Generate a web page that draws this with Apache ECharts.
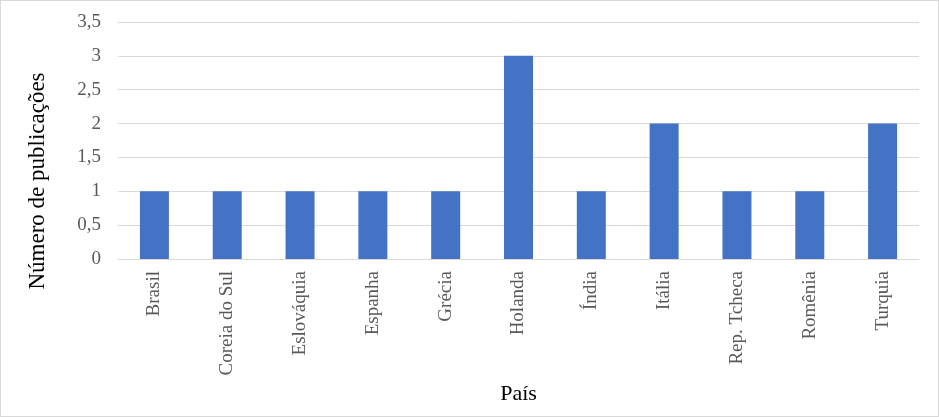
<!DOCTYPE html>
<html><head><meta charset="utf-8">
<script src="https://cdn.jsdelivr.net/npm/echarts@6/dist/echarts.min.js"></script>
<style>html,body{margin:0;padding:0;background:#fff}#c{width:939px;height:417px;box-sizing:border-box;border:1px solid #d9d9d9}</style>
</head><body><div id="c"></div>
<script>
const categories = ['Brasil','Coreia do Sul','Eslováquia','Espanha','Grécia','Holanda','Índia','Itália','Rep. Tcheca','Romênia','Turquia'];
const publicacoes = [1,1,1,1,1,3,1,2,1,1,2];
const yTitle = 'Número de publicações';
const xTitle = 'País';
const chart = echarts.init(document.getElementById('c'));
const font = '"Liberation Serif","Times New Roman",serif';
chart.setOption({
  animation:false,
  textStyle:{fontFamily:font},
  grid:{left:117,right:19,top:21,bottom:157},
  graphic:[{type:'text',x:37,y:180,rotation:Math.PI/2,
    style:{text:yTitle,font:'23px '+font,fill:'#000',align:'center',verticalAlign:'middle'}}],
  xAxis:{type:'category',data:categories,
    name:xTitle,nameLocation:'middle',nameGap:123,
    nameTextStyle:{fontFamily:font,fontSize:22,color:'#000'},
    axisLine:{lineStyle:{color:'#d9d9d9',width:1}},axisTick:{show:false},
    axisLabel:{rotate:90,interval:0,fontFamily:font,fontSize:19,color:'#595959',margin:12}},
  yAxis:{type:'value',min:0,max:3.5,interval:0.5,
    axisLine:{show:false},axisTick:{show:false},
    axisLabel:{fontFamily:font,fontSize:19,color:'#595959',margin:17,
      formatter:v=>String(v).replace('.',',')},
    splitLine:{lineStyle:{color:'#d9d9d9',width:1}}},
  series:[{type:'bar',data:publicacoes,barWidth:29,itemStyle:{color:'#4472c4'}}]
});
</script></body></html>
